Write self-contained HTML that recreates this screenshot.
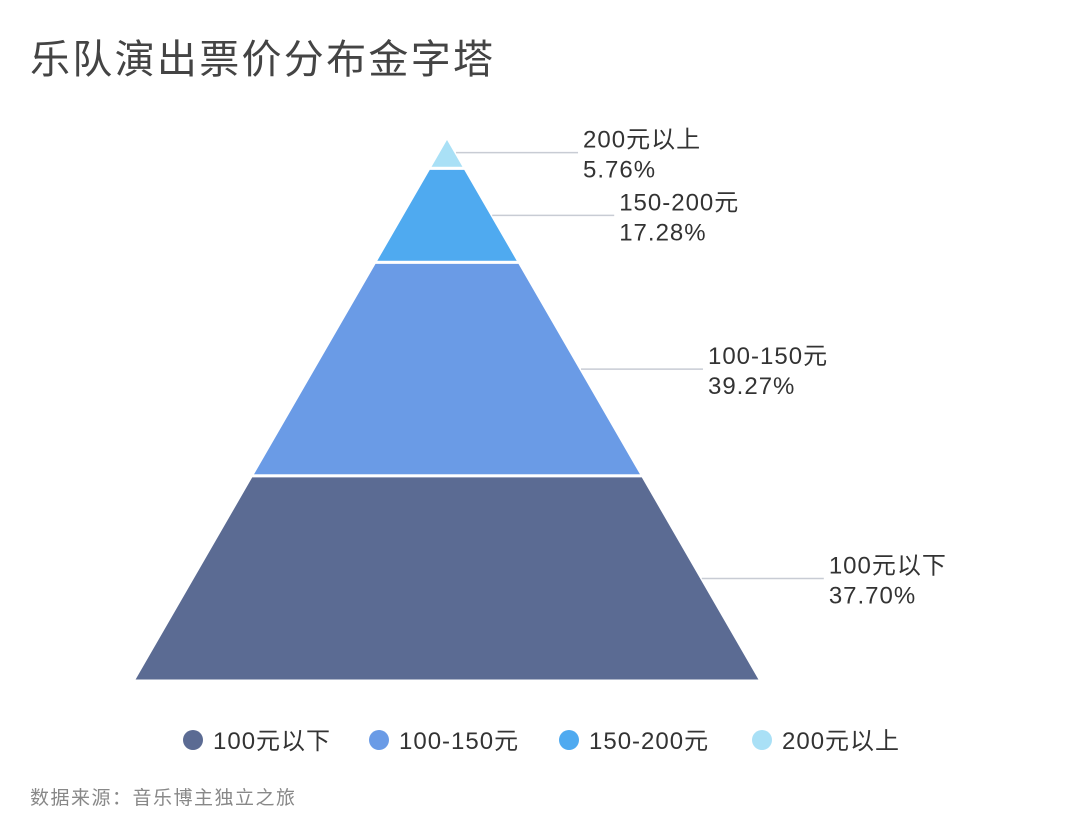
<!DOCTYPE html>
<html><head><meta charset="utf-8">
<style>
body{margin:0;background:#fff;width:1080px;height:815px;overflow:hidden;font-family:"Liberation Sans","Noto Sans CJK SC",sans-serif;}
svg text{font-family:"Liberation Sans","Noto Sans CJK SC",sans-serif;}
</style></head><body>
<svg id="chart" width="1080" height="815">
<text x="30" y="73" font-size="40" letter-spacing="2.3" fill="#444">乐队演出票价分布金字塔</text>
<g id="segs"></g>
<g id="legend"></g>
<text x="30" y="804" font-size="19" letter-spacing="1.5" fill="#888">数据来源：音乐博主独立之旅</text>
</svg>
<script>
const categories=["100元以下","100-150元","150-200元","200元以上"];
const values=[37.70,39.27,17.28,5.76];
const colors=["#5b6b93","#6a9be6","#4faaf0","#a9e0f6"];
const NS="http://www.w3.org/2000/svg";
const apexX=447,apexY=137,baseY=681,halfBase=314;
const total=values.reduce((a,b)=>a+b,0);
const yScale=v=>(baseY-apexY)*v/total;
const halfW=y=>halfBase*(y-apexY)/(baseY-apexY);
const segs=document.getElementById('segs');
let cum=0;
for(let i=values.length-1;i>=0;i--){
  const y0=apexY+yScale(cum);cum+=values[i];const y1=apexY+yScale(cum);
  const p=document.createElementNS(NS,'polygon');
  p.setAttribute('points',`${apexX-halfW(y0)},${y0} ${apexX+halfW(y0)},${y0} ${apexX+halfW(y1)},${y1} ${apexX-halfW(y1)},${y1}`);
  p.setAttribute('fill',colors[i]);p.setAttribute('stroke','#fff');p.setAttribute('stroke-width','3');
  
  
  segs.appendChild(p);
  const ym=(y0+y1)/2,xm=apexX+halfW(ym);
  const l=document.createElementNS(NS,'line');
  l.setAttribute('x1',xm);l.setAttribute('x2',xm+122);l.setAttribute('y1',ym);l.setAttribute('y2',ym);
  l.setAttribute('stroke','#c8ccd4');l.setAttribute('stroke-width','1.5');
  
  
  segs.appendChild(l);
  const t=document.createElementNS(NS,'text');
  t.setAttribute('x',xm+127);t.setAttribute('y',ym-5);t.setAttribute('font-size','24');t.setAttribute('letter-spacing','1');t.setAttribute('fill','#333');
  t.textContent=categories[i];
  
  
  segs.appendChild(t);
  const t2=document.createElementNS(NS,'text');
  t2.setAttribute('x',xm+127);t2.setAttribute('y',ym+25);t2.setAttribute('font-size','24');t2.setAttribute('letter-spacing','1');t2.setAttribute('fill','#333');
  t2.textContent=values[i].toFixed(2)+'%';
  
  
  segs.appendChild(t2);
}
const lg=document.getElementById('legend');
const lx=[193,379,569,762];
categories.forEach((c,i)=>{
  const g=document.createElementNS(NS,'g');
  
  
  const ci=document.createElementNS(NS,'circle');
  ci.setAttribute('cx',lx[i]);ci.setAttribute('cy',740);ci.setAttribute('r',10);ci.setAttribute('fill',colors[i]);
  g.appendChild(ci);
  const t=document.createElementNS(NS,'text');
  t.setAttribute('x',lx[i]+20);t.setAttribute('y',749);t.setAttribute('font-size','24');t.setAttribute('letter-spacing','1');t.setAttribute('fill','#333');
  t.textContent=c;g.appendChild(t);lg.appendChild(g);
});
</script>
</body></html>
